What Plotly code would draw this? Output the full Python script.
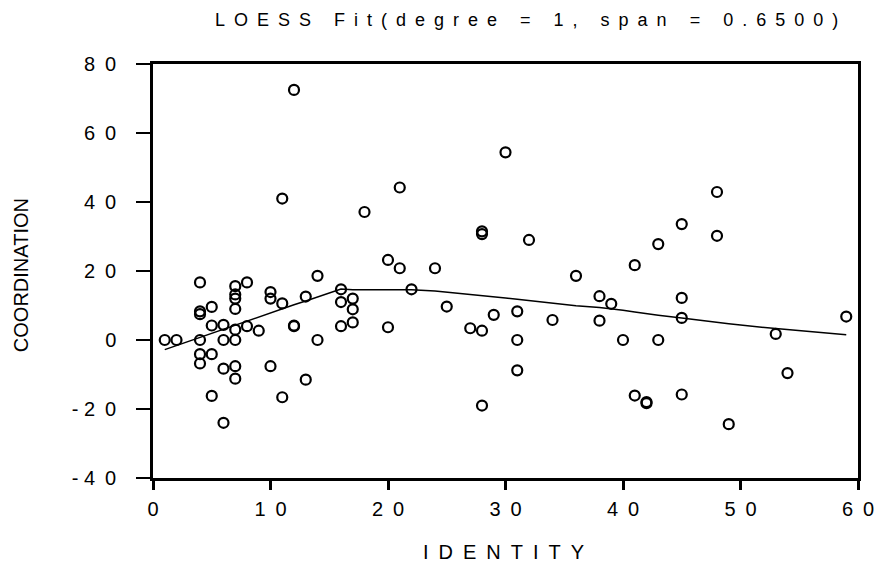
import plotly.graph_objects as go

# ---- data ----
identity = [1, 2,
            4, 4, 4, 4, 4, 4,
            5, 5, 5, 5,
            6, 6, 6, 6,
            7, 7, 7, 7, 7, 7, 7, 7,
            8, 8,
            9,
            10, 10, 10,
            11, 11, 11,
            12, 12, 12,
            13, 13,
            14, 14,
            16, 16, 16,
            17, 17, 17,
            18,
            20, 20,
            21, 21,
            22, 24, 25, 27,
            28, 28, 28, 28,
            29, 30,
            31, 31, 31,
            32, 34, 36,
            38, 38, 39, 40,
            41, 41,
            42, 42,
            43, 43,
            45, 45, 45, 45,
            48, 48,
            49, 53, 54, 59]
coordination = [0, 0,
                16.7, 8.3, 7.5, 0, -4.1, -6.8,
                9.6, 4.2, -4.1, -16.2,
                4.4, 0, -8.3, -24,
                15.6, 13.2, 12.0, 9.0, 3.0, 0, -7.6, -11.2,
                16.7, 4.0,
                2.7,
                13.9, 12.0, -7.6,
                41, 10.6, -16.6,
                72.5, 4.2, 4.0,
                12.6, -11.5,
                18.6, 0,
                14.7, 11.0, 4.0,
                12.0, 8.9, 5.1,
                37.1,
                23.2, 3.7,
                44.2, 20.8,
                14.7, 20.8, 9.7, 3.4,
                31.5, 30.7, 2.7, -19.0,
                7.3, 54.4,
                8.3, 0, -8.8,
                29.0, 5.8, 18.6,
                12.7, 5.6, 10.5, 0,
                21.7, -16.1,
                -18.0, -18.3,
                27.8, 0,
                33.6, 12.2, 6.4, -15.8,
                42.9, 30.2,
                -24.4, 1.75, -9.6, 6.8]

fit_x = [1, 2, 4, 5, 6, 7, 8, 9, 10, 11, 12, 13, 14, 16, 17, 18, 20, 21, 22,
         24, 25, 27, 28, 29, 30, 31, 32, 34, 36, 38, 39, 40, 41, 42, 43, 45,
         48, 49, 53, 54, 59]
fit_y = [-2.8, -1.6, 0.8, 1.9, 3.1, 4.3, 5.4, 6.6, 7.8, 9.0, 10.2, 11.3, 12.5,
         14.8, 14.6, 14.6, 14.6, 14.6, 14.6, 14.2, 13.9, 13.3, 12.8, 12.5,
         12.2, 11.8, 11.4, 10.6, 9.9, 9.4, 9.1, 8.6, 8.1, 7.6, 7.2, 6.4,
         5.1, 4.7, 3.3, 3.0, 1.5]

x_ticks = [0, 10, 20, 30, 40, 50, 60]
y_ticks = [-40, -20, 0, 20, 40, 60, 80]

title_text = "LOESS Fit(degree = 1, span = 0.6500)"
x_title = "IDENTITY"
y_title = "COORDINATION"

SP = "\u2002"


def spaced(v, sep=SP):
    s = str(v).replace(" ", "\u00a0")
    out = ""
    for i, ch in enumerate(s):
        if i > 0:
            out += "\u00a0" if s[i - 1] == "-" else sep
        out += ch
    return out


FONT = "Liberation Sans, Arial, sans-serif"

fig = go.Figure()
fig.add_trace(go.Scatter(
    x=identity, y=coordination, mode="markers",
    marker=dict(symbol="circle-open", size=10, color="black",
                line=dict(color="black", width=2.2)),
    hoverinfo="skip", showlegend=False))
fig.add_trace(go.Scatter(
    x=fit_x, y=fit_y, mode="lines",
    line=dict(color="black", width=1.5),
    hoverinfo="skip", showlegend=False))

fig.update_layout(
    width=874, height=574,
    margin=dict(l=153, r=16, t=64, b=96, autoexpand=False),
    paper_bgcolor="white", plot_bgcolor="white",
    font=dict(family=FONT, color="black", size=20),
    xaxis=dict(range=[0, 60], tickmode="array", tickvals=x_ticks,
               ticktext=[spaced(v) for v in x_ticks],
               automargin=False,
               showgrid=False, zeroline=False, showline=True,
               linecolor="black", linewidth=2.5, mirror=True,
               ticks="outside", ticklen=9, tickwidth=2.5, tickcolor="black",
               ticklabelstandoff=2, ticklabeloverflow="allow",
               tickfont=dict(size=20)),
    yaxis=dict(range=[-40, 80], tickmode="array", tickvals=y_ticks,
               ticktext=[spaced(v) for v in y_ticks],
               automargin=False,
               showgrid=False, zeroline=False, showline=True,
               linecolor="black", linewidth=2.5, mirror=True,
               ticks="outside", ticklen=14, tickwidth=1.5, tickcolor="black",
               ticklabelstandoff=16, ticklabeloverflow="allow",
               tickfont=dict(size=20)),
    annotations=[
        dict(text=spaced(title_text),
             xref="paper", yref="paper", x=0.530, y=1.0, yshift=44,
             xanchor="center", yanchor="middle", showarrow=False,
             font=dict(size=18)),
        dict(text=spaced(x_title), xref="paper", yref="paper", x=0.497, y=0,
             yshift=-74, xanchor="center", yanchor="middle", showarrow=False,
             font=dict(size=20)),
        dict(text=y_title, xref="paper", yref="paper", x=0, y=0.49,
             xshift=-132, xanchor="center", yanchor="middle", textangle=-90,
             showarrow=False, font=dict(size=20)),
    ],
)

fig.write_html(
    "out.html", config={"displayModeBar": False},
    post_script=("document.body.style.margin='0px';"
                 "document.body.style.overflow='hidden';"
                 "document.documentElement.style.overflow='hidden';"))
